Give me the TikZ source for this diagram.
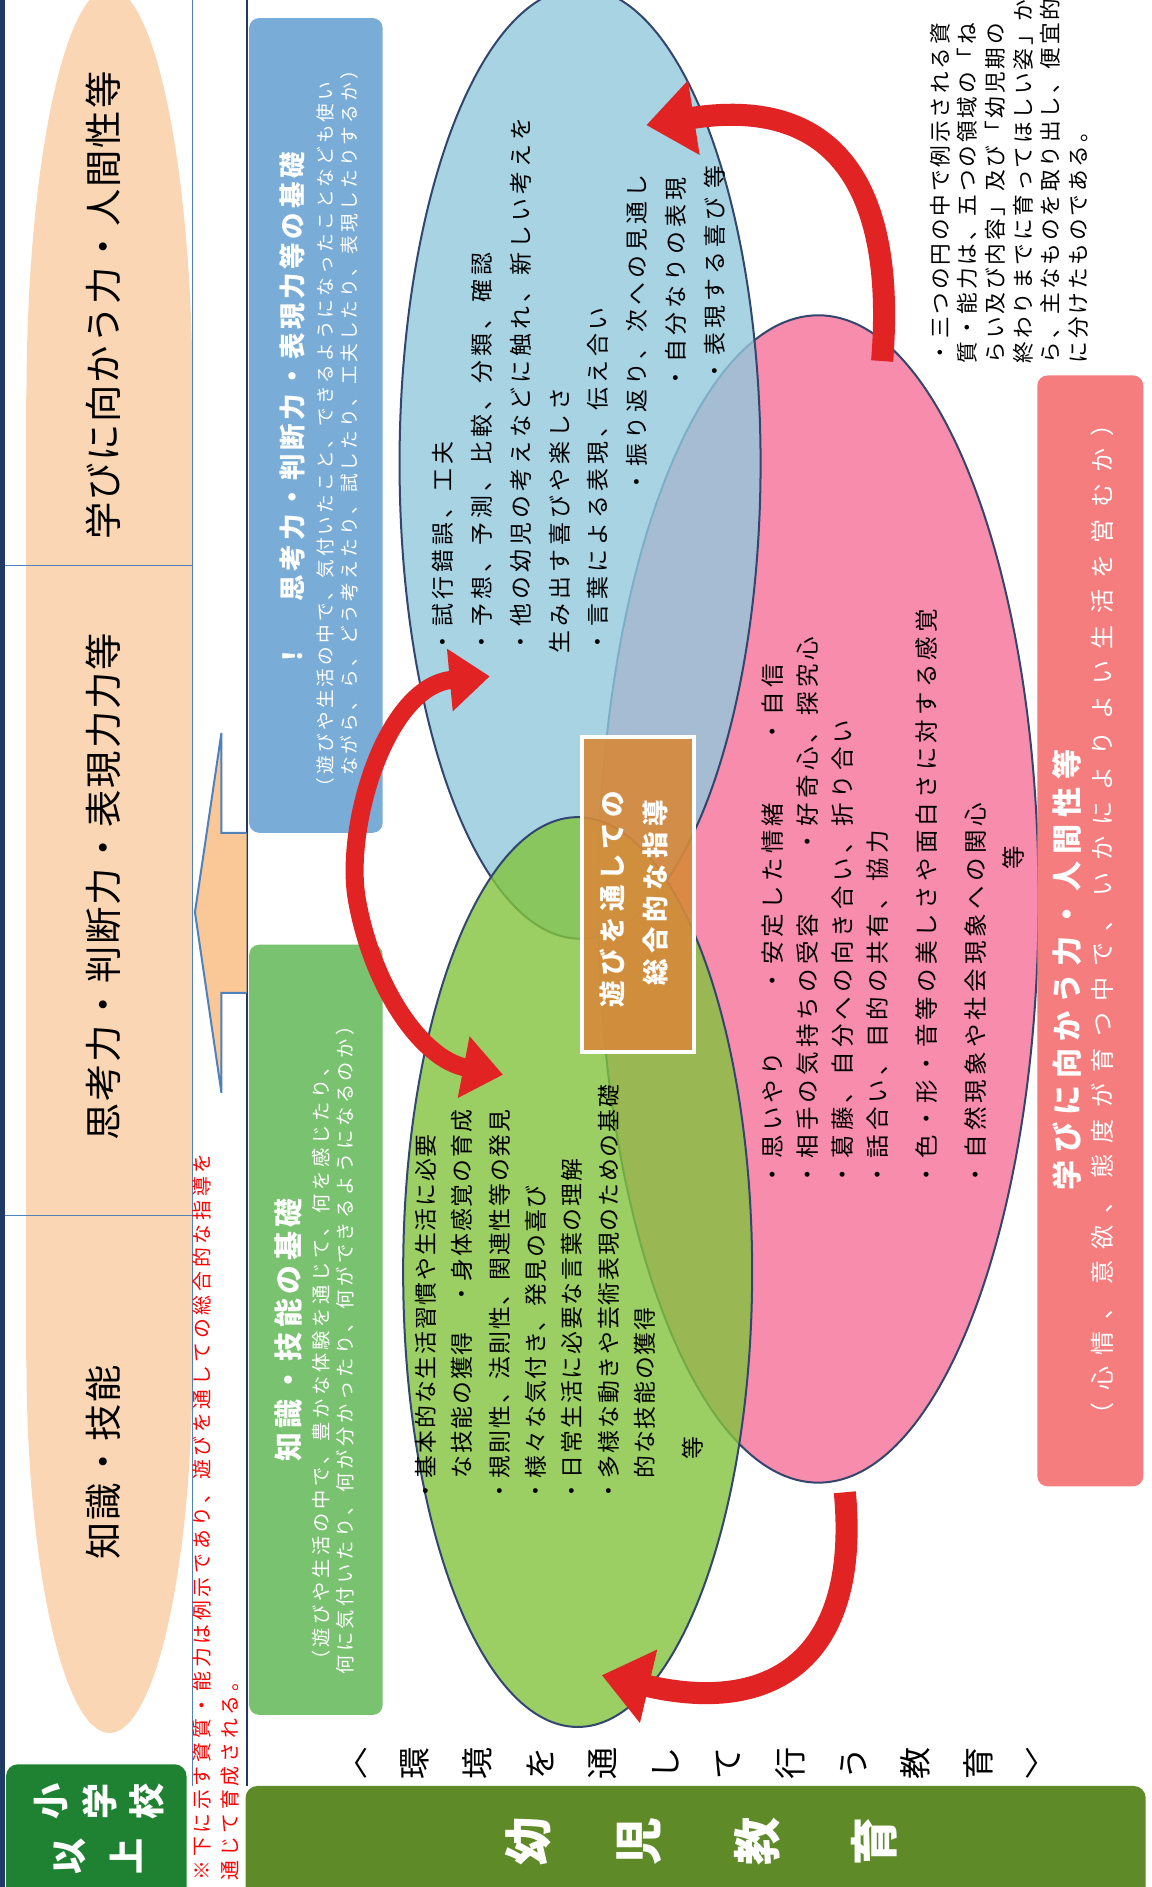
\documentclass[tikz,border=0pt]{standalone}
\usepackage{fontspec}
\setmainfont{Noto Sans CJK JP}
\usetikzlibrary{arrows.meta}
\newcommand\fsz[2]{\fontsize{#1}{#1}\selectfont\addfontfeature{LetterSpace=#2}}
\newcommand\fszb[2]{\fontsize{#1}{#1}\selectfont\bfseries\addfontfeature{LetterSpace=#2}}
\definecolor{navy}{RGB}{31,56,100}
\definecolor{cellline}{RGB}{79,129,189}
\definecolor{peach}{RGB}{251,214,180}
\definecolor{arrowpeach}{RGB}{250,200,150}
\definecolor{boxblue}{RGB}{122,172,216}
\definecolor{boxgreen}{RGB}{120,194,112}
\definecolor{ellblue}{RGB}{146,201,221}
\definecolor{ellgreen}{RGB}{130,196,61}
\definecolor{ellpink}{RGB}{247,140,172}
\definecolor{boxpink}{RGB}{245,125,125}
\definecolor{boxorange}{RGB}{215,138,58}
\definecolor{arrred}{RGB}{225,35,35}
\definecolor{darkgreen}{RGB}{30,130,50}
\definecolor{olivebar}{RGB}{95,138,40}
\definecolor{ellborder}{RGB}{50,70,110}
\begin{document}
\begin{tikzpicture}[x=0.6pt,y=-0.6pt,
  tline/.style={rotate=90,anchor=west,inner sep=0pt},
  tcen/.style={rotate=90,anchor=center,inner sep=0pt},
  toptxt/.style={tcen,font={\fsz{18.6pt}{5}}},
  redtxt/.style={tline,text=red,font={\fsz{9.9pt}{19}}},
  btitle/.style={tcen,text=white,font={\fszb{13.2pt}{14}}},
  bsub/.style={tline,text=white,font={\fsz{9.3pt}{17}}},
  gtitle/.style={tcen,text=white,font={\fszb{14.4pt}{16}}},
  gsub/.style={tline,text=white,font={\fsz{9.6pt}{19}}},
  bltxt/.style={tline,font={\fsz{11.4pt}{18}}},
  gltxt/.style={tline,font={\fsz{11.4pt}{8}}},
  pltxt/.style={tline,font={\fsz{11.7pt}{18}}},
  notetxt/.style={tline,font={\fsz{10.8pt}{13}}},
  ptitle/.style={tcen,text=white,font={\fszb{15pt}{24}}},
  psub/.style={tcen,text=white,font={\fsz{12pt}{47}}},
  ctitle/.style={tcen,text=white,font={\fszb{13.2pt}{20}}},
  vchar/.style={rotate=90,inner sep=0pt},
  ell/.style={draw=ellborder,line width=1pt},
  redarr/.style={draw=arrred,line width=11pt},
]
\useasboundingbox (0,0) rectangle (957,1568);
\clip (0,0) rectangle (957,1568);
\fill[white] (0,0) rectangle (957,1568);

% top row (小学校以上 columns)
\fill[peach] (91,330) ellipse [x radius=69, y radius=340];
\fill[peach] (22,330) rectangle (160,1130);
\fill[peach] (91,1130) ellipse [x radius=69, y radius=310];
\draw[cellline, line width=0.8pt] (160,0) -- (160,1484);
\draw[cellline, line width=0.8pt] (4,470) -- (160,470);
\draw[cellline, line width=0.8pt] (4,1010) -- (160,1010);
\draw[navy, line width=3pt] (1.5,0) -- (1.5,1568);
\draw[navy, line width=1pt] (205,0) -- (205,1484);

\node[toptxt] (top1) at (86,254) {学びに向かう力・人間性等};
\node[toptxt] (top2) at (86,737) {思考力・判断力・表現力力等};
\node[toptxt] (top3) at (86,1215) {知識・技能};

% red note
\node[redtxt] (red1) at (168,1563) {※下に示す資質・能力は例示であり、遊びを通しての総合的な指導を};
\node[redtxt] (red2) at (191,1563) {通じて育成される。};

% block arrow
\filldraw[fill=arrowpeach, draw=cellline, line width=1pt]
  (205,692) -- (184,692) -- (184,609) -- (162,758) -- (184,908) -- (184,825) -- (205,825);

% blue box
\fill[boxblue, rounded corners=5pt] (207,15) rectangle (318,692);
\node[btitle] (bbt) at (243,313) {思考力・判断力・表現力等の基礎};
\node[btitle] (bbx) at (243,545) {！};
\node[bsub] (bbs1) at (270,662) {（遊びや生活の中で、気付いたこと、できるようになったことなども使い};
\node[bsub] (bbs2) at (290,645) {ながら、ら、どう考えたり、試したり、工夫したり、表現したりするか）};

% green box
\fill[boxgreen, rounded corners=5pt] (207,785) rectangle (318,1425);
\node[gtitle] (gbt) at (240,1105) {知識・技能の基礎};
\node[gsub] (gbs1) at (267,1388) {（遊びや生活の中で、豊かな体験を通じて、何を感じたり、};
\node[gsub] (gbs2) at (287,1392) {何に気付いたり、何が分かったり、何ができるようになるのか）};

% ellipses
\filldraw[ell, fill=ellpink] (680,747) ellipse [x radius=183, y radius=485];
\filldraw[ell, fill=ellblue, fill opacity=0.8] (482,385) ellipse [x radius=150, y radius=395];
\filldraw[ell, fill=ellgreen, fill opacity=0.8] (480,1057) ellipse [x radius=145, y radius=378];

% blue ellipse text
\node[bltxt] (bl1) at (368,543) {・試行錯誤、工夫};
\node[bltxt] (bl2) at (400,543) {・予想、予測、比較、分類、確認};
\node[bltxt] (bl3) at (433,543) {・他の幼児の考えなどに触れ、新しい考えを};
\node[bltxt] (bl4) at (465,543) {生み出す喜びや楽しさ};
\node[bltxt] (bl5) at (497,543) {・言葉による表現、伝え合い};
\node[bltxt] (bl6) at (529,410) {・振り返り、次への見通し};
\node[bltxt] (bl7) at (562,324) {・自分なりの表現};
\node[bltxt] (bl8) at (594,318) {・表現する喜び 等};

% green ellipse text
\node[gltxt] (gl1) at (354,1249) {・基本的な生活習慣や生活に必要};
\node[gltxt] (gl2) at (384,1229) {な技能の獲得　・身体感覚の育成};
\node[gltxt] (gl3) at (415,1249) {・規則性、法則性、関連性等の発見};
\node[gltxt] (gl4) at (445,1249) {・様々な気付き、発見の喜び};
\node[gltxt] (gl5) at (475,1249) {・日常生活に必要な言葉の理解};
\node[gltxt] (gl6) at (506,1249) {・多様な動きや芸術表現のための基礎};
\node[gltxt] (gl7) at (536,1229) {的な技能の獲得};
\node[tcen,font={\fsz{11.4pt}{0}}] (gl8) at (576,1203) {等};

% pink ellipse text
\node[pltxt] (pl1) at (642,986) {・思いやり　　・安定した情緒　　・自信};
\node[pltxt] (pl2) at (671,986) {・相手の気持ちの受容　　・好奇心、探究心};
\node[pltxt] (pl3) at (700,986) {・葛藤、自分への向き合い、折り合い};
\node[pltxt] (pl4) at (729,986) {・話合い、目的の共有、協力};
\node[pltxt] (pl5) at (770,986) {・色・形・音等の美しさや面白さに対する感覚};
\node[pltxt] (pl6) at (811,986) {・自然現象や社会現象への関心};
\node[tcen,font={\fsz{11.7pt}{0}}] (pl7) at (842,713) {等};

% centre box
\filldraw[draw=white, line width=2pt, fill=boxorange, fill opacity=0.9] (484,612) rectangle (577,874);
\node[ctitle] (ct1) at (509,747) {遊びを通しての};
\node[ctitle] (ct2) at (545,742) {総合的な指導};

% red arrows
\coordinate (a1s) at (733,300);
\coordinate (a1e) at (537,104);
\coordinate (a2s) at (407,562);
\coordinate (a2m) at (297,750);
\coordinate (a2e) at (418,893);
\coordinate (a3s) at (702,1240);
\coordinate (a3e) at (500,1392);
\draw[redarr, -{Triangle[length=24pt,width=36pt]}] (a1s) .. controls (745,150) and (690,80) .. (a1e);
\draw[redarr, line width=9pt, {Triangle[length=20pt,width=30pt]}-{Triangle[length=20pt,width=30pt]}]
  (a2s) .. controls (320,570) and (285,690) .. (a2m) .. controls (310,820) and (350,880) .. (a2e);
\draw[redarr, -{Triangle[length=24pt,width=36pt]}] (a3s) .. controls (715,1380) and (640,1425) .. (a3e);

% pink box
\fill[boxpink, rounded corners=5pt] (862,312) rectangle (950,1235);
\node[ptitle] (pbt) at (887,806) {学びに向かう力・人間性等};
\node[psub] (pbs) at (916,764) {（心情、意欲、態度が育つ中で、いかによりよい生活を営むか）};

% note
\node[notetxt] (n1) at (781,302) {・三つの円の中で例示される資};
\node[notetxt] (n2) at (804,302) {質・能力は、五つの領域の「ね};
\node[notetxt] (n3) at (827,302) {らい及び内容」及び「幼児期の};
\node[notetxt] (n4) at (850,302) {終わりまでに育ってほしい姿」か};
\node[notetxt] (n5) at (873,302) {ら、主なものを取り出し、便宜的};
\node[notetxt] (n6) at (896,302) {に分けたものである。};

% bottom labels
\fill[darkgreen, rounded corners=6pt] (5,1466) rectangle (155,1590);
\node[vchar,text=white,font={\fszb{18pt}{0}}] (s1) at (42,1497) {小};
\node[vchar,text=white,font={\fszb{18pt}{0}}] (s2) at (83,1497) {学};
\node[vchar,text=white,font={\fszb{18pt}{0}}] (s3) at (122,1497) {校};
\node[vchar,text=white,font={\fszb{18pt}{0}}] (s4) at (58,1543) {以};
\node[vchar,text=white,font={\fszb{18pt}{0}}] (s5) at (105,1543) {上};

\fill[olivebar, rounded corners=6pt] (204,1484) rectangle (952,1590);
\node[vchar,text=white,font={\fszb{24pt}{0}}] (y1) at (439,1530) {幼};
\node[vchar,text=white,font={\fszb{24pt}{0}}] (y2) at (531,1530) {児};
\node[vchar,text=white,font={\fszb{24pt}{0}}] (y3) at (629,1530) {教};
\node[vchar,text=white,font={\fszb{24pt}{0}}] (y4) at (726,1530) {育};

\node[inner sep=0pt,font={\fsz{16pt}{0}}] (envL) at (293,1465) {〈};
\foreach \c [count=\i] in {環,境,を,通,し,て,行,う,教,育}
  \node[vchar,font={\fsz{16pt}{0}}] (env\i) at ({293+52*\i},1465) {\c};
\node[inner sep=0pt,font={\fsz{16pt}{0}}] (envR) at (865,1465) {〉};
\end{tikzpicture}
\end{document}
